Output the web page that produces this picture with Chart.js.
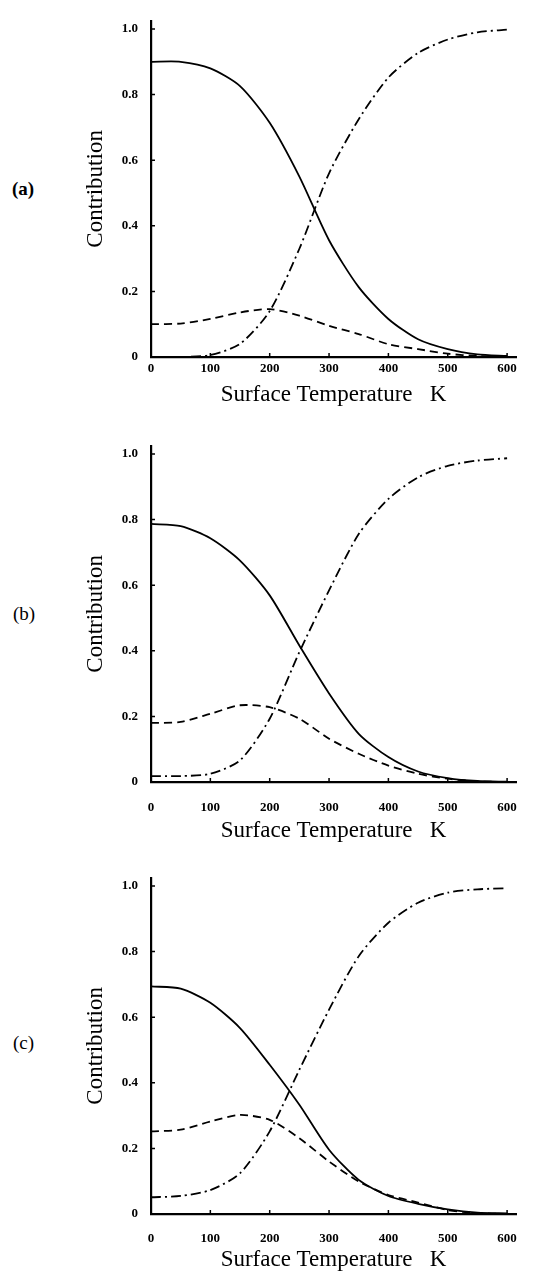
<!DOCTYPE html>
<html>
<head>
<meta charset="utf-8">
<script src="https://cdn.jsdelivr.net/npm/chart.js@4"></script>
<style>
  body { margin: 0; background: #fff; width: 545px; height: 1272px; overflow: hidden; position: relative; }
  canvas { position: absolute; left: 0; }
  .tag { position: absolute; font-family: "Liberation Serif", serif; font-size: 19px; color: #000; }
</style>
</head>
<body>
<div class="tag" style="left:12px;top:178px;font-weight:bold">(a)</div>
<div class="tag" style="left:13px;top:603px">(b)</div>
<div class="tag" style="left:13px;top:1032px">(c)</div>
<canvas id="chartA" width="545" height="420" style="top:0px"></canvas>
<canvas id="chartB" width="545" height="420" style="top:425px"></canvas>
<canvas id="chartC" width="545" height="420" style="top:857px"></canvas>
<script>
// surface temperature (K)
const temps = [0, 50, 100, 150, 200, 250, 300, 350, 400, 450, 500, 550, 600];
const xTicks = [0, 100, 200, 300, 400, 500, 600];
const yTicks = [0, 0.2, 0.4, 0.6, 0.8, 1.0];

// panel (a)
const solidA   = [0.90, 0.90, 0.88, 0.826, 0.714, 0.55, 0.356, 0.213, 0.116, 0.054, 0.024, 0.008, 0.003];
const dashedA  = [0.10, 0.102, 0.116, 0.136, 0.146, 0.126, 0.095, 0.07, 0.039, 0.024, 0.01, 0.003, 0];
const dashDotA = [0, 0, 0.006, 0.04, 0.14, 0.33, 0.56, 0.725, 0.852, 0.927, 0.968, 0.99, 0.998];

// panel (b)
const solidB   = [0.787, 0.78, 0.743, 0.675, 0.569, 0.416, 0.27, 0.147, 0.076, 0.032, 0.012, 0.003, 0.001];
const dashedB  = [0.18, 0.183, 0.208, 0.234, 0.228, 0.193, 0.132, 0.086, 0.05, 0.025, 0.01, 0.002, 0];
const dashDotB = [0.018, 0.018, 0.025, 0.066, 0.193, 0.396, 0.584, 0.756, 0.863, 0.929, 0.964, 0.98, 0.987];

// panel (c)
const solidC   = [0.694, 0.687, 0.644, 0.567, 0.455, 0.333, 0.196, 0.104, 0.055, 0.031, 0.014, 0.004, 0.002];
const dashedC  = [0.252, 0.257, 0.282, 0.302, 0.287, 0.231, 0.16, 0.099, 0.058, 0.035, 0.012, 0.003, 0];
const dashDotC = [0.051, 0.055, 0.073, 0.124, 0.252, 0.44, 0.623, 0.786, 0.888, 0.949, 0.98, 0.99, 0.993];

const serif = "'Liberation Serif', 'Times New Roman', serif";

// small inward tick marks on both axes
const innerTicks = {
  id: 'innerTicks',
  afterDraw(chart) {
    const ctx = chart.ctx;
    const x = chart.scales.x, y = chart.scales.y;
    ctx.save();
    ctx.strokeStyle = '#000';
    ctx.lineWidth = 1.5;
    ctx.beginPath();
    x.ticks.forEach((t, i) => {
      const px = x.getPixelForTick(i);
      ctx.moveTo(px, y.bottom);
      ctx.lineTo(px, y.bottom - 4);
    });
    y.ticks.forEach((t, i) => {
      const py = y.getPixelForTick(i);
      ctx.moveTo(x.left, py);
      ctx.lineTo(x.left + 4, py);
    });
    ctx.stroke();
    ctx.restore();
  }
};

function makePanel(id, solid, dashed, dashDot, tickPad, titlePad) {
  const toPts = arr => temps.map((t, i) => ({ x: t, y: arr[i] }));
  const line = (data, dash) => ({
    data: toPts(data),
    borderColor: '#000',
    borderWidth: 1.8,
    borderDash: dash,
    pointRadius: 0,
    tension: 0.25,
    fill: false
  });
  new Chart(document.getElementById(id), {
    type: 'line',
    data: {
      datasets: [
        line(solid, []),
        line(dashed, [8, 5]),
        line(dashDot, [10, 4, 2, 4])
      ]
    },
    options: {
      responsive: false,
      animation: false,
      layout: { padding: { left: 0, right: 29, top: 20, bottom: 0 } },
      plugins: { legend: { display: false }, tooltip: { enabled: false } },
      scales: {
        x: {
          type: 'linear',
          min: 0,
          max: 615,
          afterFit: s => { s.height = 63; },
          afterBuildTicks: s => { s.ticks = xTicks.map(v => ({ value: v })); },
          grid: { display: false, drawTicks: false },
          border: { display: true, color: '#000', width: 2.2 },
          ticks: {
            color: '#000',
            padding: tickPad,
            maxRotation: 0,
            font: { family: serif, size: 13, weight: 'bold' }
          },
          title: {
            display: true,
            text: 'Surface Temperature   K',
            color: '#000',
            font: { family: serif, size: 23 },
            padding: { top: 0, bottom: titlePad }
          }
        },
        y: {
          min: 0,
          max: 1.025,
          afterFit: s => { s.width = 151; },
          afterBuildTicks: s => { s.ticks = yTicks.map(v => ({ value: v })); },
          grid: { display: false, drawTicks: false },
          border: { display: true, color: '#000', width: 2.2 },
          ticks: {
            color: '#000',
            padding: 13,
            font: { family: serif, size: 13, weight: 'bold' },
            callback: v => (v === 0 ? '0' : v.toFixed(1))
          },
          title: {
            display: true,
            text: 'Contribution',
            color: '#000',
            font: { family: serif, size: 23 },
            padding: { top: 82, bottom: 0 }
          }
        }
      }
    },
    plugins: [innerTicks]
  });
}

makePanel('chartA', solidA, dashedA, dashDotA, 4, 11);
makePanel('chartB', solidB, dashedB, dashDotB, 18, 0);
makePanel('chartC', solidC, dashedC, dashDotC, 17, 3);
</script>
</body>
</html>
